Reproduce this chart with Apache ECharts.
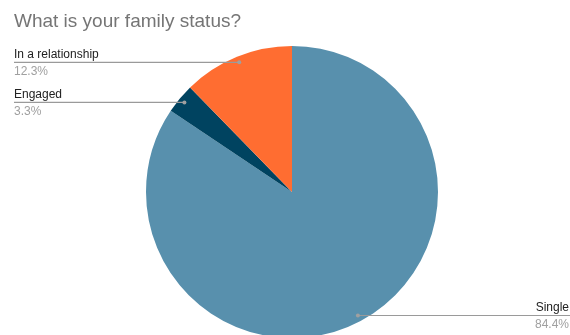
<!DOCTYPE html>
<html>
<head>
<meta charset="utf-8">
<script src="https://cdn.jsdelivr.net/npm/echarts@6/dist/echarts.min.js"></script>
<style>
	html, body { margin: 0; padding: 0; background: #fff; }
	#chart { width: 570px; height: 335px; }
</style>
</head>
<body>
<div id="chart"></div>
<script>
// 数据
var categories = [ "Single", "Engaged", "In a relationship" ];
var shares = [ 84.4, 3.3, 12.3 ];
var colors = [ "#5890ad", "#004360", "#ff6d31" ];

var CX = 292, CY = 192, R = 146, DOT_R = 140;

$ready();

// 引线起点（饼图内侧的小圆点）
function dotPoint(p0) {
	var vx = p0[0] - CX, vy = p0[1] - CY;
	var d = Math.sqrt(vx * vx + vy * vy) || 1;
	return [ CX + vx / d * DOT_R, CY + vy / d * DOT_R ];
}

function $ready() {
	var myChart = echarts.init(document.getElementById("chart"));

	var data = categories.map(function(name, i) {
		return { name : name, value : shares[i], itemStyle : { color : colors[i] } };
	});
	var ghost = categories.map(function(name, i) {
		return { name : name, value : shares[i] };
	});

	option = {
		animation : false,
		title : {
			text : 'What is your family status?',
			left : 9,
			top : 7,
			textStyle : {
				color : '#757575',
				fontSize : 19,
				fontWeight : 'normal',
				fontFamily : 'Liberation Sans'
			}
		},
		series : [ {
			type : 'pie',
			center : [ CX, CY ],
			radius : R,
			startAngle : 90,
			clockwise : true,
			data : data,
			itemStyle : { borderWidth : 0 },
			label : { show : false },
			labelLine : { show : false }
		}, {
			// 标签和引线（画在扇区上面）
			type : 'pie',
			center : [ CX, CY ],
			radius : R,
			startAngle : 90,
			clockwise : true,
			silent : true,
			z : 5,
			data : ghost,
			itemStyle : { color : 'rgba(0,0,0,0)' },
			label : {
				show : true,
				formatter : '{n|{b}}\n{p|{c}%}',
				rich : {
					n : { fontSize : 12, color : '#222', lineHeight : 17, fontFamily : 'Liberation Sans' },
					p : { fontSize : 12, color : '#a0a0a0', lineHeight : 17, fontFamily : 'Liberation Sans' }
				}
			},
			labelLine : {
				show : true,
				lineStyle : { color : '#9a9a9a', width : 1.2 }
			},
			labelLayout : function(params) {
				var d = dotPoint(params.labelLinePoints[0]);
				var left = d[0] < CX;
				var edge = left ? 14 : 570;
				return {
					x : left ? 14 : 569,
					y : d[1] + 1,
					align : left ? 'left' : 'right',
					verticalAlign : 'middle',
					labelLinePoints : [ d, d, [ edge, d[1] ] ]
				};
			}
		}, {
			// 小圆点
			type : 'pie',
			center : [ CX, CY ],
			radius : R,
			startAngle : 90,
			clockwise : true,
			silent : true,
			z : 6,
			data : ghost,
			itemStyle : { color : 'rgba(0,0,0,0)' },
			label : {
				show : true,
				padding : 0,
				formatter : '{d|}',
				rich : {
					d : { width : 4, height : 4, lineHeight : 4, fontSize : 1, borderRadius : 2, backgroundColor : '#a0a0a0' }
				}
			},
			labelLine : { show : true, lineStyle : { width : 0, opacity : 0 } },
			labelLayout : function(params) {
				var d = dotPoint(params.labelLinePoints[0]);
				return {
					x : d[0],
					y : d[1],
					align : 'center',
					verticalAlign : 'middle',
					labelLinePoints : [ d, d, d ]
				};
			}
		} ]
	};
	myChart.setOption(option);
}
</script>
</body>
</html>
